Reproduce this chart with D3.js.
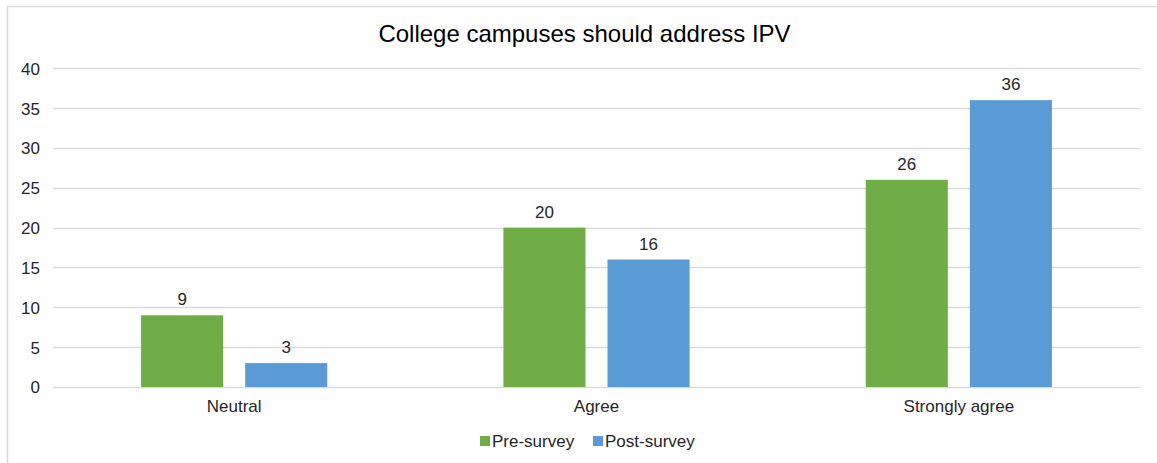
<!DOCTYPE html>
<html><head><meta charset="utf-8">
<script src="https://cdn.jsdelivr.net/npm/d3@7"></script>
<style>body{margin:0;background:#fff;}svg{display:block;font-family:"Liberation Sans",Arial,sans-serif;}</style>
</head><body>
<svg id="c" width="1157" height="463"></svg>
<script>
const categories = ["Neutral", "Agree", "Strongly agree"];
const seriesNames = ["Pre-survey", "Post-survey"];
const preSurvey = [9, 20, 26];
const postSurvey = [3, 16, 36];
const yTicks = [0, 5, 10, 15, 20, 25, 30, 35, 40];
const colors = ["#70AD47", "#5B9BD5"];
const title = "College campuses should address IPV";

const svg = d3.select("#c");
const W = 1157, H = 463;
const m = {left: 53, right: 1140, top: 68.3, bottom: 387};
const FS = 17;

svg.append("rect").attr("x", 7.5).attr("y", 6.5).attr("width", W + 10).attr("height", H + 10)
  .attr("fill", "#fff").attr("stroke", "#d9d9d9").attr("stroke-width", 1.5);

const x = d3.scaleBand().domain(categories).range([m.left, m.right]);
const inner = d3.scaleBand().domain(seriesNames).range([0, x.bandwidth()]).paddingInner(0.2115).paddingOuter(0.846);
const y = d3.scaleLinear().domain([0, 40]).range([m.bottom, m.top]);

// gridlines
svg.append("g").selectAll("line").data(yTicks).join("line")
  .attr("x1", m.left).attr("x2", m.right)
  .attr("y1", d => Math.round(y(d)) + 0.5).attr("y2", d => Math.round(y(d)) + 0.5)
  .attr("stroke", "#d9d9d9").attr("stroke-width", 1.3);

// y axis labels
const yAxis = d3.axisLeft(y).tickValues(yTicks).tickSize(0).tickPadding(0);
const ya = svg.append("g").attr("transform", `translate(${m.left - 13},0)`).call(yAxis);
ya.select(".domain").remove();
ya.selectAll("text").attr("font-size", FS).attr("fill", "#262626").attr("font-family", "Liberation Sans, Arial, sans-serif").attr("dy", "0.35em");

// x axis labels
const xAxis = d3.axisBottom(x).tickSize(0).tickPadding(0);
const xa = svg.append("g").attr("transform", `translate(0,${m.bottom + 13})`).call(xAxis);
xa.select(".domain").remove();
xa.selectAll("text").attr("font-size", FS).attr("fill", "#262626").attr("font-family", "Liberation Sans, Arial, sans-serif").attr("dy", "0.71em");

// bars
const series = [preSurvey, postSurvey];
series.forEach((vals, si) => {
  const g = svg.append("g");
  g.selectAll("rect").data(vals).join("rect")
    .attr("x", (d, i) => x(categories[i]) + inner(seriesNames[si]))
    .attr("width", inner.bandwidth())
    .attr("y", d => y(d))
    .attr("height", d => y(0) - y(d))
    .attr("fill", colors[si]);
  g.selectAll("text").data(vals).join("text")
    .attr("x", (d, i) => x(categories[i]) + inner(seriesNames[si]) + inner.bandwidth() / 2)
    .attr("y", d => y(d) - 10)
    .attr("text-anchor", "middle").attr("font-size", FS).attr("fill", "#262626")
    .text(d => d);
});

// title
svg.append("text").attr("x", 584.5).attr("y", 42).attr("text-anchor", "middle")
  .attr("font-size", 24).attr("fill", "#000").text(title);

// legend
const legendItems = [{name: seriesNames[0], x: 480}, {name: seriesNames[1], x: 593}];
const lg = svg.append("g");
legendItems.forEach((it, i) => {
  lg.append("rect").attr("x", it.x).attr("y", 436).attr("width", 10).attr("height", 10).attr("fill", colors[i]);
  lg.append("text").attr("x", it.x + 12).attr("y", 447).attr("font-size", FS).attr("fill", "#262626").text(it.name);
});
</script>
</body></html>
